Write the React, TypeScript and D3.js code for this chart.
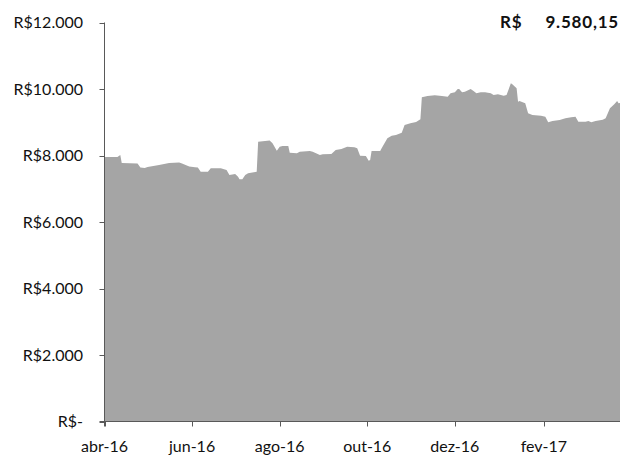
import React from "react";
import * as d3 from "d3";

const dates = [
  "2016-04-01", "2016-04-10", "2016-04-12", "2016-04-13", "2016-04-24", "2016-04-26", "2016-04-29",
  "2016-05-01", "2016-05-09", "2016-05-16", "2016-05-23", "2016-05-25", "2016-05-30",
  "2016-06-03", "2016-06-05", "2016-06-07", "2016-06-12", "2016-06-14", "2016-06-21", "2016-06-25", "2016-06-27",
  "2016-07-01", "2016-07-03", "2016-07-04", "2016-07-06", "2016-07-08", "2016-07-10", "2016-07-15", "2016-07-16",
  "2016-07-17", "2016-07-25", "2016-07-27", "2016-07-30",
  "2016-08-01", "2016-08-03", "2016-08-07", "2016-08-08", "2016-08-13", "2016-08-15", "2016-08-22", "2016-08-24",
  "2016-08-29", "2016-08-31",
  "2016-09-06", "2016-09-09", "2016-09-13", "2016-09-17", "2016-09-22", "2016-09-24", "2016-09-26", "2016-09-30",
  "2016-10-02", "2016-10-03", "2016-10-04", "2016-10-10", "2016-10-11", "2016-10-15", "2016-10-18", "2016-10-21",
  "2016-10-25", "2016-10-27", "2016-10-31",
  "2016-11-04", "2016-11-07", "2016-11-08", "2016-11-12", "2016-11-17", "2016-11-22", "2016-11-26", "2016-11-28",
  "2016-12-01", "2016-12-03", "2016-12-04", "2016-12-06", "2016-12-08", "2016-12-12", "2016-12-14", "2016-12-16",
  "2016-12-19", "2016-12-22", "2016-12-26", "2016-12-28", "2016-12-31",
  "2017-01-04", "2017-01-06", "2017-01-09", "2017-01-10", "2017-01-13", "2017-01-14", "2017-01-15", "2017-01-19",
  "2017-01-21", "2017-01-24", "2017-01-30",
  "2017-02-02", "2017-02-04", "2017-02-07", "2017-02-12", "2017-02-16", "2017-02-20", "2017-02-23", "2017-02-25",
  "2017-03-02", "2017-03-04", "2017-03-06", "2017-03-09", "2017-03-14", "2017-03-16", "2017-03-19", "2017-03-22",
  "2017-03-24", "2017-03-25", "2017-03-26",
];

const values = [
  7955, 7955, 8015, 7774, 7759, 7639, 7624,
  7654, 7714, 7774, 7789, 7759, 7669,
  7645, 7639, 7513, 7513, 7615, 7615, 7564, 7414,
  7444, 7362, 7284, 7284, 7414, 7465, 7504, 7510,
  8415, 8451, 8367, 8144,
  8265, 8286, 8286, 8084, 8066, 8114, 8135, 8114,
  8015, 8036,
  8045, 8165, 8195, 8265, 8247, 8217, 7994, 7985,
  7844, 7865, 8135, 8135, 8217, 8517, 8596, 8617,
  8686, 8917, 8968,
  9008, 9089, 9750, 9789, 9811, 9789, 9768, 9871,
  9901, 10000, 10000, 9901, 9919, 10000, 9940, 9871,
  9901, 9901, 9871, 9820, 9841,
  9799, 9820, 10171, 10141, 10021, 9618, 9639, 9570,
  9269, 9218, 9197,
  9167, 8998, 9038, 9068, 9119, 9149, 9167, 9017,
  9017, 9038, 8998, 9038, 9077, 9119, 9420, 9540,
  9639, 9570, 9580.15,
];

const yTicks = [0, 2000, 4000, 6000, 8000, 10000, 12000];
const xTickDates = ["2016-04-01", "2016-06-01", "2016-08-01", "2016-10-01", "2016-12-01", "2017-02-01"];
const monthNames = ["jan", "fev", "mar", "abr", "mai", "jun", "jul", "ago", "set", "out", "nov", "dez"];
const lastValueLabel = "9.580,15";
const domainStart = "2016-04-01";
const domainEnd = "2017-03-26";

const W = 620;
const H = 457;
const FONT = "Lato, 'Open Sans', sans-serif";

export default function App() {
  const parse = d3.timeParse("%Y-%m-%d");
  const x = d3
    .scaleTime()
    .domain([parse(domainStart) as Date, parse(domainEnd) as Date])
    .range([104.5, 620]);
  const y = d3.scaleLinear().domain([0, 12000]).range([421.5, 22.5]);

  const data = dates.map((d, i) => ({ d: parse(d) as Date, v: values[i] }));
  const area = d3
    .area<{ d: Date; v: number }>()
    .x((p) => x(p.d))
    .y0(y(0))
    .y1((p) => y(p.v));

  const fmtY = (v: number) =>
    v === 0 ? "R$-" : "R$" + d3.format(",")(v).replace(/,/g, ".");
  const fmtX = (d: Date) =>
    monthNames[d.getMonth()] + "-" + String(d.getFullYear()).slice(2);

  const axisColor = "#595959";
  const textColor = "#111";
  const x0 = x.range()[0];

  return (
    <div style={{ position: "fixed", left: 0, top: 0, width: W, height: H, background: "#fff" }}>
      <svg width={W} height={H} style={{ display: "block" }}>
        <path d={area(data) || ""} fill="#A5A5A5" />
        {/* y axis */}
        <line x1={x0} x2={x0} y1={y(12000)} y2={y(0) + 5} stroke={axisColor} strokeWidth={1} />
        {yTicks.map((t) => (
          <g key={t}>
            <line x1={x0 - 5} x2={x0} y1={Math.round(y(t)) + 0.5} y2={Math.round(y(t)) + 0.5} stroke={axisColor} />
            <text
              x={83}
              y={y(t)}
              dy="0.35em"
              textAnchor="end"
              fontFamily={FONT}
              fontSize={16}
              fill={textColor}
            >
              {fmtY(t)}
            </text>
          </g>
        ))}
        {/* x axis */}
        <line x1={x0 - 5} x2={W} y1={y(0)} y2={y(0)} stroke={axisColor} strokeWidth={1} />
        {xTickDates.map((s) => {
          const d = parse(s) as Date;
          const px = Math.round(x(d)) + 0.5;
          return (
            <g key={s}>
              <line x1={px} x2={px} y1={y(0)} y2={y(0) + 5} stroke={axisColor} />
              <text
                x={x(d)}
                y={452}
                textAnchor="middle"
                fontFamily={FONT}
                fontSize={16}
                fill={textColor}
              >
                {fmtX(d)}
              </text>
            </g>
          );
        })}
        {/* last value label */}
        <text x={500} y={y(12000)} dy="0.35em" fontFamily={FONT} fontSize={17} fontWeight="bold" letterSpacing={0.8} fill={textColor}>
          R$
        </text>
        <text x={619} y={y(12000)} dy="0.35em" textAnchor="end" fontFamily={FONT} fontSize={17} fontWeight="bold" letterSpacing={0.8} fill={textColor}>
          {lastValueLabel}
        </text>
      </svg>
    </div>
  );
}
